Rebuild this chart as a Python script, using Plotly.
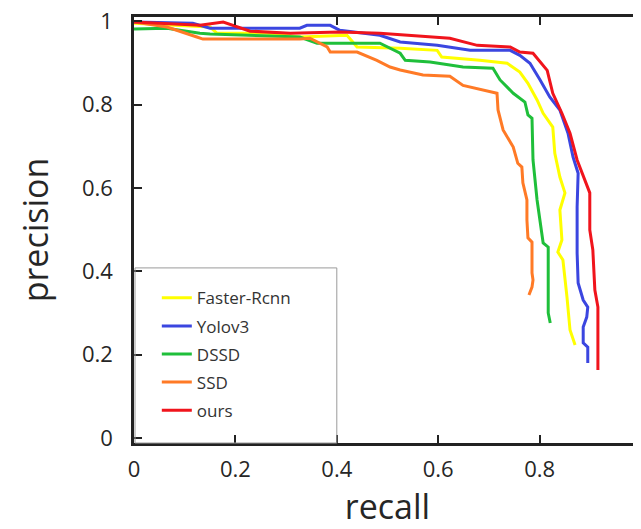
import plotly.graph_objects as go

# values
recall_frcnn = [0, 0.130, 0.150, 0.164, 0.262, 0.327, 0.420, 0.440, 0.525, 0.598, 0.607, 0.682, 0.736, 0.761,
                0.777, 0.795, 0.807, 0.826, 0.830, 0.840, 0.850, 0.840, 0.844, 0.836, 0.846, 0.854, 0.860, 0.870]
precision_frcnn = [0.995, 0.986, 0.986, 0.971, 0.971, 0.962, 0.966, 0.938, 0.935, 0.930, 0.914, 0.906, 0.899, 0.878,
                   0.851, 0.811, 0.779, 0.746, 0.683, 0.626, 0.588, 0.547, 0.475, 0.446, 0.427, 0.338, 0.259, 0.223]

recall_yolo = [0, 0.116, 0.150, 0.229, 0.327, 0.341, 0.387, 0.406, 0.485, 0.525, 0.598, 0.663, 0.742, 0.761,
               0.781, 0.801, 0.820, 0.840, 0.856, 0.866, 0.876, 0.874, 0.874, 0.876, 0.886, 0.895, 0.893, 0.886,
               0.886, 0.895, 0.895]
precision_yolo = [0.998, 0.995, 0.983, 0.983, 0.983, 0.990, 0.990, 0.978, 0.966, 0.950, 0.942, 0.930, 0.930, 0.918,
                  0.899, 0.859, 0.818, 0.787, 0.731, 0.674, 0.635, 0.554, 0.444, 0.372, 0.331, 0.314, 0.290, 0.266,
                  0.228, 0.218, 0.180]

recall_dssd = [0, 0.065, 0.130, 0.150, 0.327, 0.361, 0.485, 0.525, 0.535, 0.584, 0.649, 0.708, 0.722, 0.748,
               0.771, 0.777, 0.785, 0.787, 0.795, 0.801, 0.807, 0.817, 0.817, 0.821]
precision_dssd = [0.981, 0.983, 0.971, 0.969, 0.962, 0.947, 0.947, 0.923, 0.906, 0.902, 0.890, 0.887, 0.859, 0.827,
                  0.806, 0.775, 0.767, 0.667, 0.571, 0.516, 0.468, 0.458, 0.300, 0.276]

recall_ssd = [0, 0.065, 0.124, 0.136, 0.327, 0.347, 0.381, 0.387, 0.440, 0.479, 0.505, 0.525, 0.570, 0.623,
              0.649, 0.682, 0.716, 0.718, 0.728, 0.748, 0.757, 0.765, 0.767, 0.775, 0.775, 0.777, 0.785, 0.785,
              0.787, 0.785, 0.779]
precision_ssd = [0.998, 0.986, 0.962, 0.957, 0.957, 0.959, 0.938, 0.926, 0.926, 0.906, 0.890, 0.883, 0.871, 0.868,
                 0.846, 0.837, 0.827, 0.787, 0.739, 0.698, 0.659, 0.650, 0.612, 0.571, 0.523, 0.480, 0.470, 0.396,
                 0.379, 0.362, 0.343]

recall_ours = [0, 0.130, 0.176, 0.199, 0.229, 0.308, 0.406, 0.485, 0.570, 0.623, 0.677, 0.742, 0.761, 0.787,
               0.815, 0.826, 0.844, 0.860, 0.874, 0.890, 0.899, 0.899, 0.905, 0.909, 0.915, 0.915]
precision_ours = [0.998, 0.990, 0.998, 0.988, 0.976, 0.971, 0.974, 0.971, 0.964, 0.959, 0.942, 0.938, 0.926, 0.923,
                  0.882, 0.827, 0.779, 0.731, 0.667, 0.619, 0.588, 0.499, 0.451, 0.355, 0.314, 0.163]

names = ["Faster-Rcnn", "Yolov3", "DSSD", "SSD", "ours"]
curves = [(recall_frcnn, precision_frcnn), (recall_yolo, precision_yolo), (recall_dssd, precision_dssd),
          (recall_ssd, precision_ssd), (recall_ours, precision_ours)]
colors = ["#ffff00", "#3b46e0", "#1fbf3a", "#ff7a26", "#f0141c"]

tick_vals = [0, 0.2, 0.4, 0.6, 0.8, 1]
tick_text = ["0", "0.2", "0.4", "0.6", "0.8", "1"]

fig = go.Figure()
for name, (rec, prec), col in zip(names, curves, colors):
    fig.add_trace(go.Scatter(x=rec, y=prec, mode="lines", name=name, legendgroup=name,
                             line=dict(color=col, width=3)))

# page body has an 8px margin, so the figure is 8px smaller than the window
font_family = "Open Sans, sans-serif"
fig.update_layout(
    width=633, height=521,
    margin=dict(l=126, r=0, t=9, b=86),
    plot_bgcolor="white", paper_bgcolor="white",
    font=dict(family=font_family, color="#262626"),
    showlegend=True,
    legend=dict(x=0.045, y=0.382, xanchor="left", yanchor="top", bgcolor="rgba(0,0,0,0)",
                font=dict(size=17, color="#333333"), tracegroupgap=3),
    xaxis=dict(range=[0, 1], tickvals=tick_vals[:-1], ticktext=tick_text[:-1], ticks="inside", ticklen=8,
               tickwidth=2, tickcolor="#222", showline=True, linecolor="#222", linewidth=2.5, mirror="ticks",
               showgrid=False, zeroline=False, tickfont=dict(size=22), ticklabelstandoff=5, automargin=False,
               ticklabeloverflow="allow",
               title=dict(text="recall", font=dict(size=34), standoff=13)),
    yaxis=dict(range=[-0.012, 1.01], tickvals=tick_vals, ticktext=tick_text, ticks="inside", ticklen=8,
               tickwidth=2, tickcolor="#222", showline=True, linecolor="#222", linewidth=2.5,
               showgrid=False, zeroline=False, tickfont=dict(size=22), ticklabelstandoff=14, automargin=False,
               ticklabeloverflow="allow",
               title=dict(text="precision", font=dict(size=34), standoff=24)),
)

# legend frame
fig.add_shape(type="rect", xref="paper", yref="paper", x0=0.002, x1=0.4, y0=0, y1=0.411,
              line=dict(color="#9a9a9a", width=1))

fig.write_html("out.html")
